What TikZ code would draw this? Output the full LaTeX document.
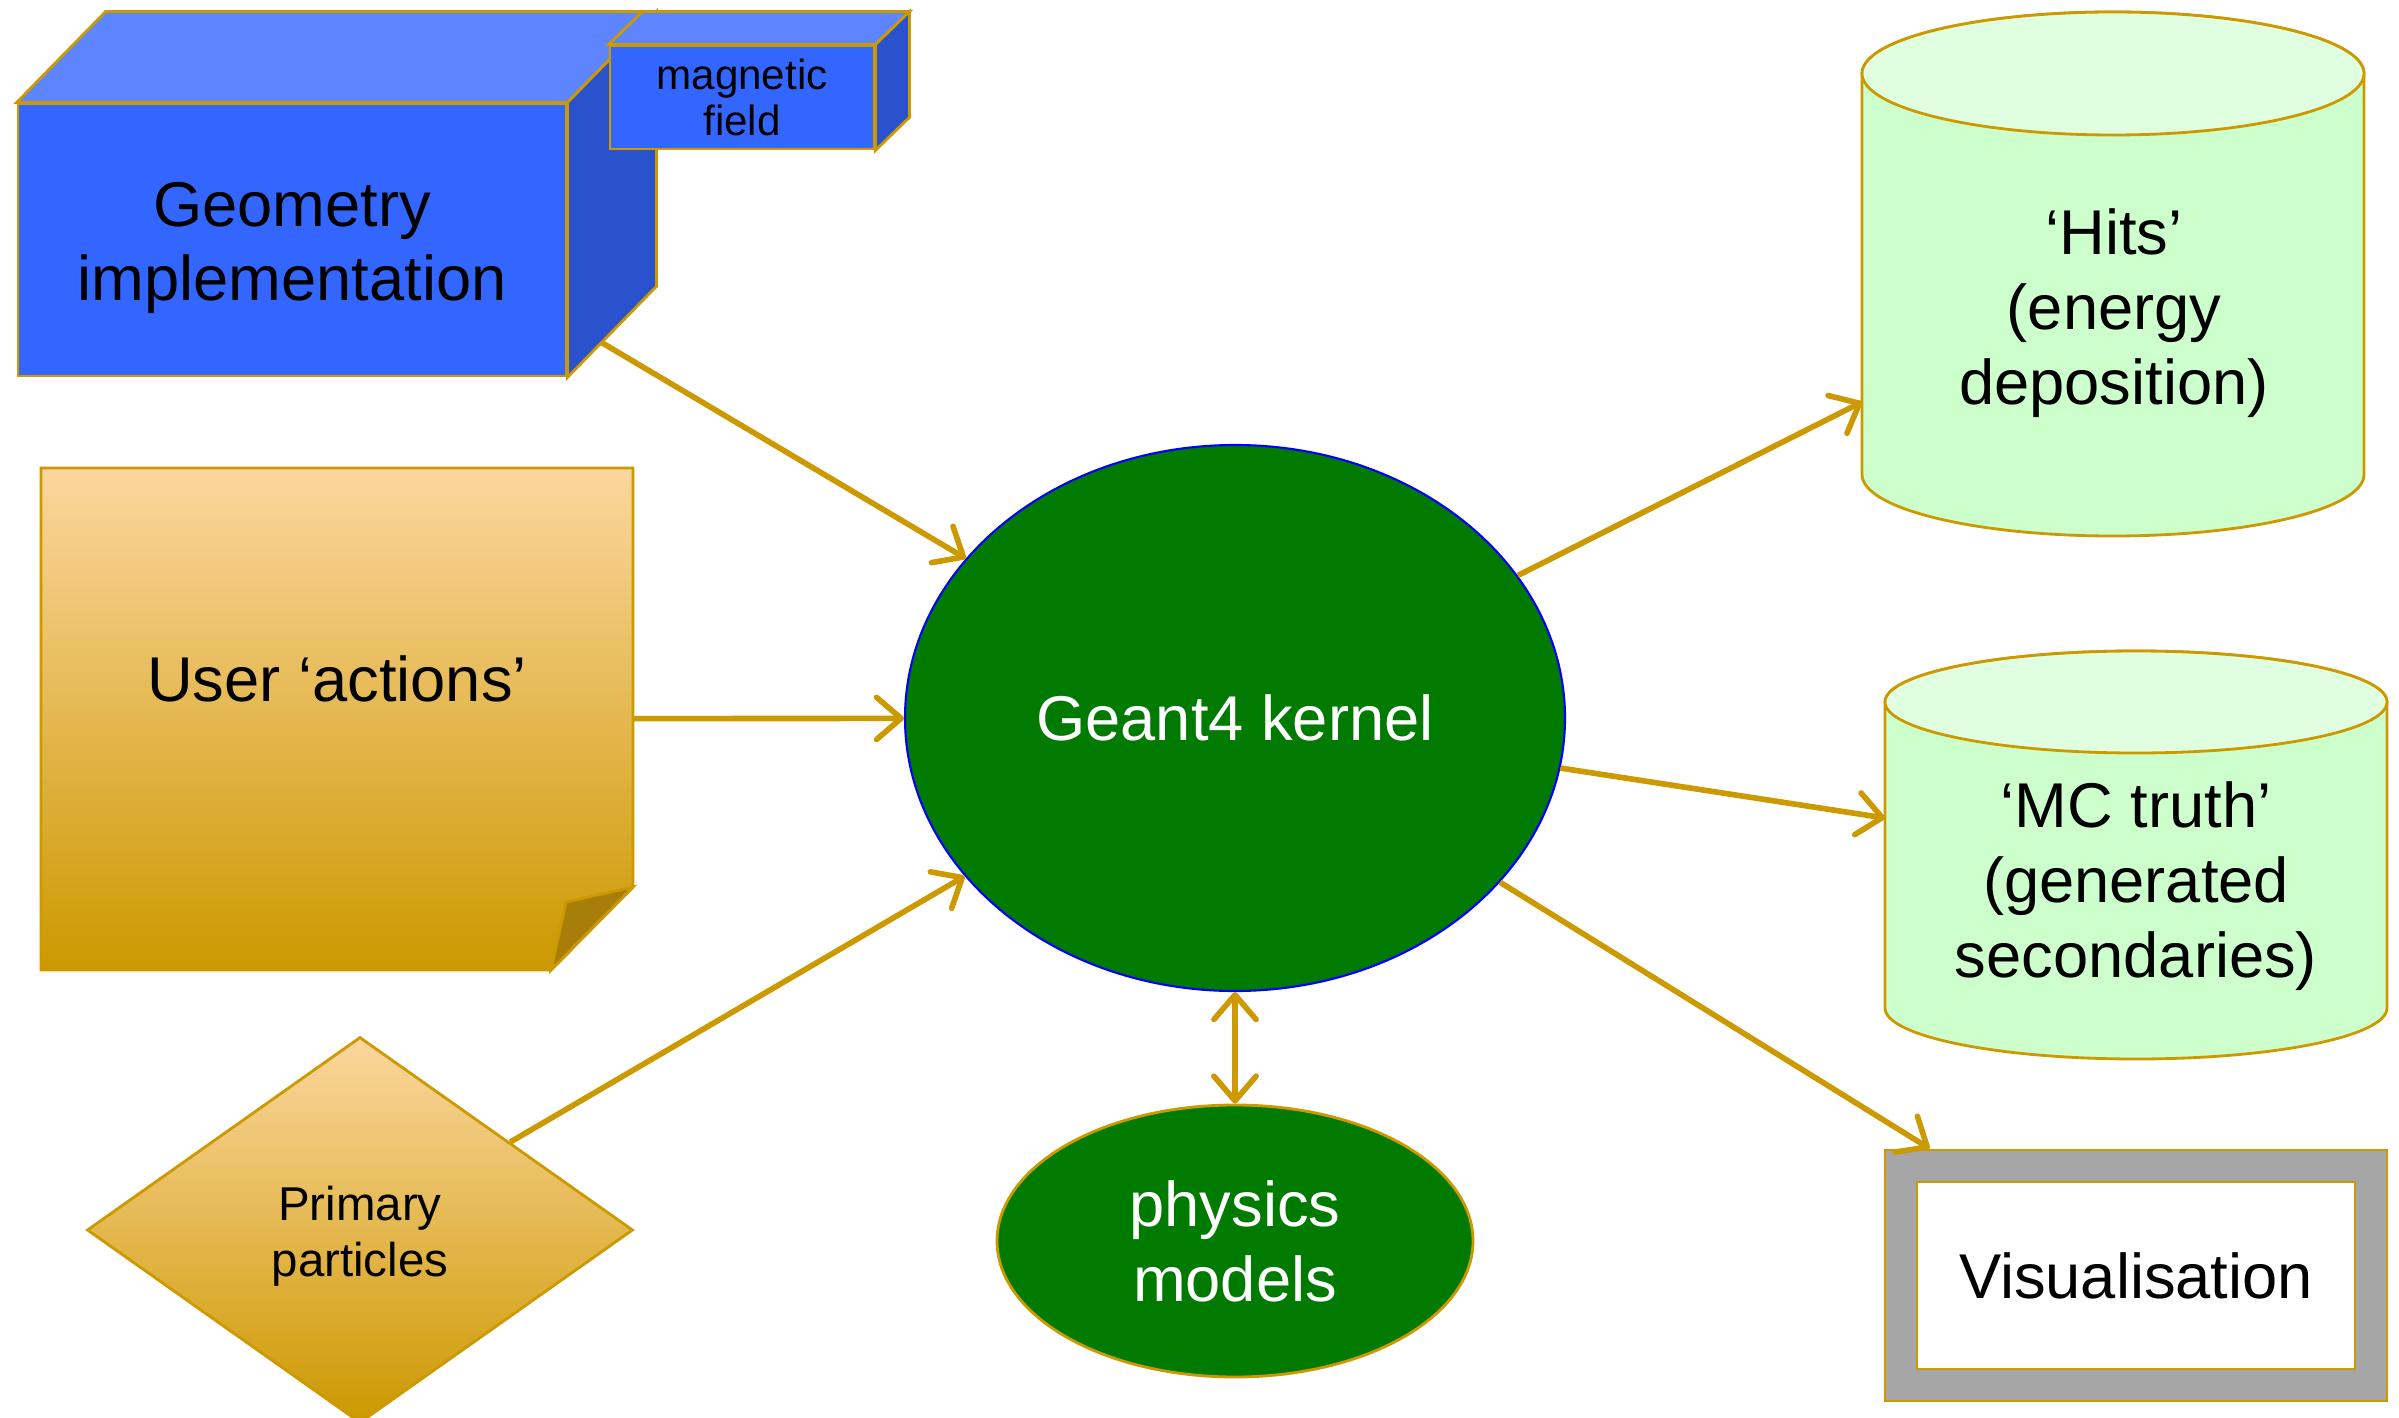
\documentclass[tikz,border=0pt]{standalone}
\usepackage{fontspec}
\setmainfont{Liberation Sans}
\usetikzlibrary{arrows.meta,calc,shapes.geometric}

\definecolor{gold}{RGB}{204,153,0}
\definecolor{peach}{RGB}{252,214,158}
\definecolor{folddark}{RGB}{168,126,10}
\definecolor{geofront}{RGB}{51,102,255}
\definecolor{geotop}{RGB}{92,133,255}
\definecolor{geoside}{RGB}{41,82,204}
\definecolor{kgreen}{RGB}{0,122,0}
\definecolor{cylbody}{RGB}{204,255,204}
\definecolor{cyltop}{RGB}{224,255,224}
\definecolor{visgrey}{RGB}{166,166,166}

\tikzset{
  big/.style={font=\fontsize{18}{21.3}\selectfont},
  rim/.style={draw=gold, line width=0.8pt},
  flow/.style={gold, line width=1.6pt, -{Straight Barb[length=7pt,width=12pt,round]}},
  both/.style={gold, line width=1.6pt, {Straight Barb[length=7pt,width=12pt,round]}-{Straight Barb[length=7pt,width=12pt,round]}}
}

\begin{document}
\begin{tikzpicture}
  \useasboundingbox (0,0) rectangle (23.99,-14.18);
  % geometry box, magnetic field box on its top
  \node[rim, fill=geofront, minimum width=5.48cm, minimum height=2.72cm,
    label={[big, align=center, yshift=-0.08cm]center:Geometry\\implementation}] (geo) at (2.92,-2.40) {};
  \filldraw[rim, fill=geotop] (geo.north west) -- ++(0.89,0.91) -- ($(geo.north east)+(0.89,0.91)$) -- (geo.north east) -- cycle;
  \filldraw[rim, fill=geoside] (geo.north east) -- ++(0.89,0.91) -- ($(geo.south east)+(0.89,0.91)$) -- (geo.south east) -- cycle;
  \node[rim, fill=geofront, minimum width=2.64cm, minimum height=1.03cm, inner sep=0pt, font=\fontsize{12}{13}\selectfont, align=center] (mag) at (7.42,-0.975) {magnetic\\field};
  \filldraw[rim, fill=geotop] (mag.north west) -- ++(0.34,0.33) -- ($(mag.north east)+(0.34,0.33)$) -- (mag.north east) -- cycle;
  \filldraw[rim, fill=geoside] (mag.north east) -- ++(0.34,0.33) -- ($(mag.south east)+(0.34,0.33)$) -- (mag.south east) -- cycle;

  % user actions note
  \shadedraw[top color=peach, bottom color=gold, draw=gold, line width=0.8pt] (0.41,-4.68) -- (6.33,-4.68) -- (6.33,-8.87) -- (5.51,-9.70) -- (0.41,-9.70) -- cycle;
  \filldraw[rim, fill=folddark] (6.33,-8.87) -- (5.66,-9.02) -- (5.51,-9.70) -- cycle;
  \node[minimum width=5.92cm, minimum height=5.02cm,
    label={[big, yshift=0.40cm]center:User ‘actions’}] (note) at (3.37,-7.19) {};

  % primary particles
  \node[diamond, aspect=1.41, minimum width=5.46cm, minimum height=3.86cm, inner sep=0pt, top color=peach, bottom color=gold, draw=gold, line width=0.8pt,
    label={[align=center, font=\fontsize{13.5}{16}\selectfont, yshift=-0.06cm]center:Primary\\particles}] (prim) at (3.60,-12.30) {};

  % kernel and physics
  \node[ellipse, fill=kgreen, draw=blue, line width=0.6pt, minimum width=6.60cm, minimum height=5.46cm, text=white, big] (kernel) at (12.35,-7.18) {Geant4 kernel};
  \node[ellipse, fill=kgreen, rim, minimum width=4.76cm, minimum height=2.72cm, text=white, big, align=center] (phys) at (12.35,-12.41) {physics\\models};

  % output stores
  \foreach \cx/\ty/\by/\ry in {21.13/-0.735/-4.745/0.615, 21.36/-7.02/-10.08/0.51}{
    \filldraw[rim, fill=cylbody] (\cx-2.51,\ty) -- (\cx-2.51,\by) arc[start angle=180, end angle=360, x radius=2.51, y radius=\ry] -- (\cx+2.51,\ty) arc[start angle=0, end angle=180, x radius=2.51, y radius=\ry] -- cycle;
    \filldraw[rim, fill=cyltop] (\cx,\ty) ellipse[x radius=2.51, y radius=\ry];
  }
  \node[big, align=center] (hits) at (21.14,-3.13) {‘Hits’\\(energy\\deposition)};
  \node[big, align=center] (mc) at (21.36,-8.86) {‘MC truth’\\(generated\\secondaries)};

  % visualisation
  \node[rim, fill=visgrey, minimum width=5.02cm, minimum height=2.51cm] (vis) at (21.36,-12.755) {};
  \node[rim, fill=white, minimum width=4.38cm, minimum height=1.87cm, big] (visframe) at (vis) {Visualisation};

  % connectors
  \coordinate (geoout) at ($(geo.south east)+(0.34,0.35)$);
  \coordinate (hitsin) at (18.62,-4.02);
  \coordinate (mcin) at (18.85,-8.18);
  \coordinate (vistop) at ($(vis.north west)+(0.46,0)$);
  \draw[flow] (geoout) -- (kernel);
  \draw[flow] (note) -- (kernel);
  \draw[flow] (prim) -- (kernel);
  \draw[flow] (kernel) -- (hitsin);
  \draw[flow] (kernel) -- (mcin);
  \draw[flow] (kernel) -- (vistop);
  \draw[both] (kernel) -- (phys);
\end{tikzpicture}
\end{document}
